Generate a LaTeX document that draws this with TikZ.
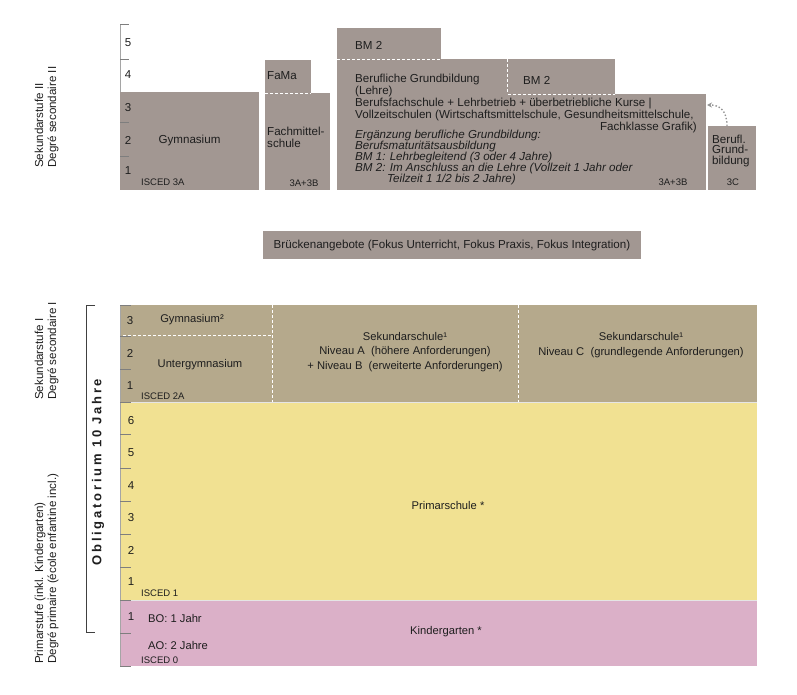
\documentclass[tikz,border=0pt]{standalone}
\usepackage{fontspec}
\setmainfont{Liberation Sans}
\usetikzlibrary{arrows.meta}
\definecolor{grauII}{HTML}{A29792}
\definecolor{khaki}{HTML}{B5A98C}
\definecolor{gelb}{HTML}{F1E192}
\definecolor{rosa}{HTML}{DBB0C8}
\definecolor{schrift}{HTML}{1E1E1E}
\definecolor{strichc}{HTML}{7E7E7E}

\tikzset{%
  feld/.style={inner sep=0pt, outer sep=0pt, anchor=north west},
  sekII/.style={feld, fill=grauII},
  sekI/.style={feld, fill=khaki},
  primar/.style={feld, fill=gelb},
  kinder/.style={feld, fill=rosa},
  texto/.style={inner sep=0pt, text=schrift, font=\fontsize{11.6}{12}\selectfont},
  textI/.style={texto, font=\fontsize{11.2}{12}\selectfont},
  klein/.style={texto, font=\fontsize{9.5}{10}\selectfont},
  jahr/.style={texto, font=\fontsize{11.5}{12}\selectfont},
  stufe/.style={texto, rotate=90, anchor=west, align=left, font=\fontsize{11.6}{13}\selectfont},
  trenn/.style={draw=white, line width=0.8pt, dash pattern=on 3pt off 2pt},
  strich/.style={draw=strichc, line width=1pt},
  achse/.style={draw=strichc!70, line width=0.8pt},
  klammer/.style={draw=schrift!85, line width=1pt},
  pfeil/.style={draw=gray!85, line width=1.4pt, dotted, -{Stealth[length=5pt,width=5pt]}},
}

\begin{document}
\begin{tikzpicture}[x=1pt, y=-1pt]
\useasboundingbox (0,0) rectangle (797,695);
% Sekundarstufe II
\node[sekII, minimum width=139pt, minimum height=98pt] (gym) at (120,92) {};
\node[sekII, minimum width=46pt, minimum height=33pt] (fama) at (265,60) {};
\node[sekII, minimum width=65pt, minimum height=97pt] (fms) at (265,93) {};
\node[sekII, minimum width=104pt, minimum height=32pt] (bmtop) at (337,28) {};
\node[sekII, minimum width=278pt, minimum height=36pt] (berufo) at (337,59) {};
\node[sekII, minimum width=369pt, minimum height=96pt] (berufu) at (337,94) {};
\node[sekII, minimum width=48pt, minimum height=64pt] (berufl) at (708,126) {};
\draw[trenn] (265,93) -- (311,93);
\draw[trenn] (337,59.5) -- (441,59.5);
\draw[trenn] (507,59.5) -- (507,94) -- (615,94);

\draw[achse] (120,25) -- (120,92);
\draw[strich] (120,25) -- (129,25) (120,60) -- (129,60) (120,123) -- (129,123) (120,157) -- (129,157);
\node[jahr] (j5) at (128,43) {5};
\node[jahr] (j4) at (128,75) {4};
\node[jahr] (j3) at (128,108) {3};
\node[jahr] (j2) at (128,140) {2};
\node[jahr] (j1) at (128,171) {1};

\node[texto] (gymtxt) at (gym) {Gymnasium};
\node[klein, anchor=west] (isced3a) at (141,182) {ISCED 3A};
\node[texto, anchor=west] (famatxt) at (267,76) {FaMa};
\node[texto, anchor=west, align=left] (fmstxt) at (267,137) {Fachmittel-\\schule};
\node[klein] (fms3a) at (304,183) {3A+3B};
\node[texto, anchor=west] (bmtoptxt) at (355,45) {BM 2};
\node[texto, anchor=west] (bmtxt) at (523,80) {BM 2};
\node[texto, anchor=west, align=left] (berufstxt) at (355,97.5) {Berufliche Grundbildung\\(Lehre)\\Berufsfachschule + Lehrbetrieb + überbetriebliche Kurse |\\Vollzeitschulen (Wirtschaftsmittelschule, Gesundheitsmittelschule,};
\node[texto, anchor=east] (grafiktxt) at (697,127) {Fachklasse Grafik)};
\node[texto, anchor=west, align=left, font=\fontsize{11.6}{11}\selectfont\itshape] (ergtxt) at (355,157) {Ergänzung berufliche Grundbildung:\\Berufsmaturitätsausbildung\\BM 1: Lehrbegleitend (3 oder 4 Jahre)\\BM 2: Im Anschluss an die Lehre (Vollzeit 1 Jahr oder\\\hspace*{32pt}Teilzeit 1 1/2 bis 2 Jahre)};
\node[klein] (beruf3a) at (673,182) {3A+3B};
\node[texto, anchor=west, align=left, font=\fontsize{11.6}{10.5}\selectfont] (berufltxt) at (712,151) {Berufl.\\Grund-\\bildung};
\node[klein] (berufl3c) at (733,182) {3C};
\coordinate (ziel) at (707,105);
\draw[pfeil] ([xshift=-5pt]berufl.north) .. controls (727,110) and (719,105) .. (ziel);

% Brueckenangebote
\node[sekII, minimum width=378pt, minimum height=28pt] (bruecke) at (263,231) {};
\node[texto] (bruecketxt) at (bruecke) {Brückenangebote (Fokus Unterricht, Fokus Praxis, Fokus Integration)};

% Sekundarstufe I, Primarstufe, Kindergarten
\node[sekI, minimum width=637pt, minimum height=97pt] (sekI) at (120,305) {};
\node[primar, minimum width=637pt, minimum height=198pt] (prim) at (120,402) {};
\node[kinder, minimum width=637pt, minimum height=66pt] (kiga) at (120,600) {};
\draw[white!80!gray, line width=0.6pt] (120,402) -- (757,402) (120,600) -- (757,600);
\draw[trenn] (272,305) -- (272,402);
\draw[trenn] (518,305) -- (518,402);
\draw[trenn] (123,335) -- (272,335);

\draw[achse] (120,305) -- (120,666);
\draw[strich] (120,305) -- (131,305) (120,336) -- (131,336) (120,369) -- (131,369) (120,402) -- (131,402)
  (120,434) -- (131,434) (120,468) -- (131,468) (120,501) -- (131,501) (120,534) -- (131,534)
  (120,567) -- (131,567) (120,600) -- (131,600) (120,633) -- (131,633) (120,666) -- (131,666);
\node[jahr] (s3) at (130,321) {3};
\node[jahr] (s2) at (130,353) {2};
\node[jahr] (s1) at (130,386) {1};
\node[jahr] (p6) at (131,421) {6};
\node[jahr] (p5) at (131,453) {5};
\node[jahr] (p4) at (131,486) {4};
\node[jahr] (p3) at (131,518) {3};
\node[jahr] (p2) at (131,550) {2};
\node[jahr] (p1) at (131,582) {1};
\node[jahr] (k1) at (131,617) {1};

\node[textI] (gym2txt) at (192,320) {Gymnasium²};
\node[textI] (untergymtxt) at (200,365) {Untergymnasium};
\node[klein, anchor=west] (isced2a) at (141,396) {ISCED 2A};
\node[textI, align=center, font=\fontsize{11.2}{14.5}\selectfont] (sekABtxt) at (405,352) {Sekundarschule¹\\Niveau A~~(höhere Anforderungen)\\+ Niveau B~~(erweiterte Anforderungen)};
\node[textI, align=center, font=\fontsize{11.2}{14.5}\selectfont] (sekCtxt) at (641,345) {Sekundarschule¹\\Niveau C~~(grundlegende Anforderungen)};
\node[textI] (primtxt) at (448,505) {Primarschule *};
\node[klein, anchor=west] (isced1) at (141,593) {ISCED 1};
\node[textI] (kigatxt) at (446,632) {Kindergarten *};
\node[textI, anchor=west] (botxt) at (148,618) {BO: 1 Jahr};
\node[textI, anchor=west] (aotxt) at (148,645) {AO: 2 Jahre};
\node[klein, anchor=west] (isced0) at (141,660) {ISCED 0};

% Stufen links
\node[stufe] (lsekII) at (46.5,168) {Sekundarstufe II\\Degré secondaire II};
\node[stufe] (lsekI) at (46.5,400) {Sekundarstufe I\\Degré secondaire I};
\node[stufe] (lprim) at (46.5,664) {Primarstufe (inkl. Kindergarten)\\Degré primaire (école enfantine incl.)};
\draw[klammer] (95,305) -- (86,305) -- (86,632) -- (95,632);
\node[texto, rotate=90, font={\fontsize{13}{13}\selectfont\bfseries\addfontfeatures{LetterSpace=21}}] (oblig) at (98,472) {Obligatorium 10 Jahre};
\end{tikzpicture}
\end{document}
